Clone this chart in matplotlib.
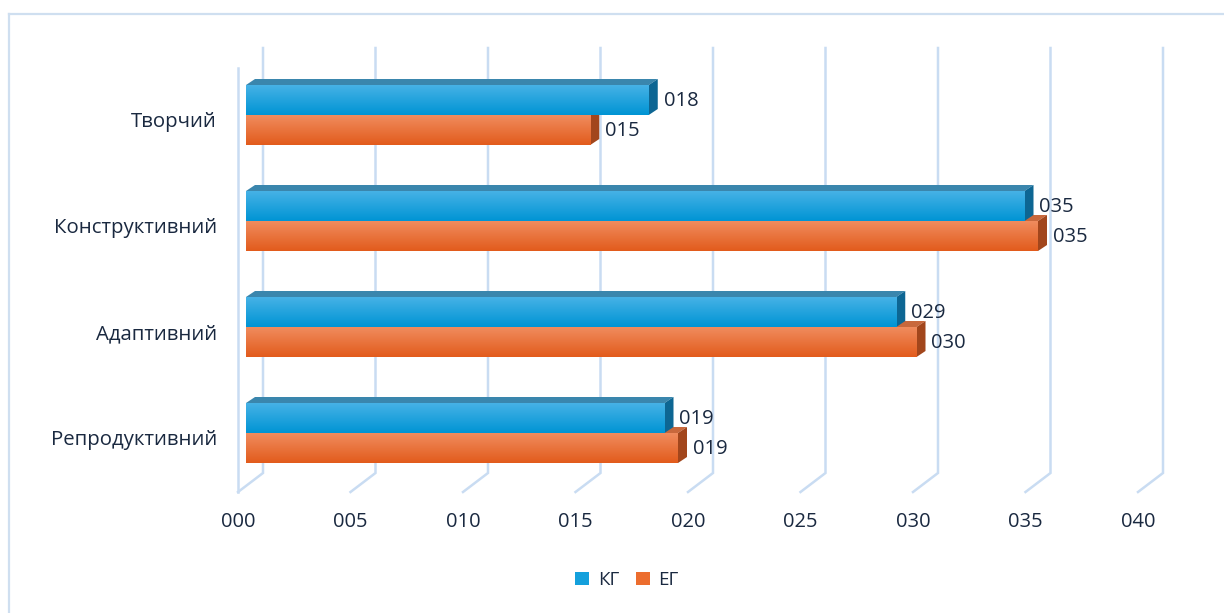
import numpy as np
import matplotlib.pyplot as plt
from matplotlib.patches import Polygon, Rectangle

plt.rcParams['font.family'] = ['Open Sans', 'DejaVu Sans']

categories = ["Репродуктивний", "Адаптивний", "Конструктивний", "Творчий"]
kg = [18.6, 28.9, 34.6, 17.9]
eg = [19.2, 29.8, 35.2, 15.3]
series = ["КГ", "ЕГ"]
xticks = [0, 5, 10, 15, 20, 25, 30, 35, 40]

W, H = 1224, 613
PX = 22.5          # pixels per unit on x
PY = 106.0         # pixels per category step
X0 = 246           # pixel where bars start
Y0 = 433           # pixel row of the first category centre

fig = plt.figure(figsize=(W / 100, H / 100), dpi=100)
ax = fig.add_axes([0, 0, 1, 1])
ax.set_xlim(-X0 / PX, (W - X0) / PX)
ax.set_ylim((Y0 - H) / PY, Y0 / PY)
ax.set_axis_off()

def px(dx):
    return dx / PX

def py(dy):
    return dy / PY

txt = '#1a2940'
grid_c = '#c9dcf2'

# frame around the chart area
ax.plot([px(9 - X0), px(W - X0)], [py(Y0 - 14)] * 2, color='#cfdff0', lw=1.6, clip_on=False)
ax.plot([px(9 - X0)] * 2, [py(Y0 - 14), py(Y0 - H)], color='#cfdff0', lw=1.6, clip_on=False)

# floor / back wall geometry
fx, bx = px(-8), px(17)
fy, by = py(Y0 - 492), py(Y0 - 473)
top_back, top_front = py(Y0 - 48), py(Y0 - 68)

for v in xticks:
    ax.plot([v + fx, v + bx, v + bx], [fy, by, top_back], color=grid_c, lw=1.8,
            solid_joinstyle='miter', zorder=1)
    ax.text(v + fx, py(Y0 - 522), f"{v:03d}", ha='center', va='center',
            fontsize=14.5, color=txt)
ax.plot([fx, fx], [fy, top_front], color=grid_c, lw=1.8, zorder=1)

# 3D bars
bh = py(30)
ddx, ddy = px(9), py(6)

def grad(c_top, c_bot):
    a = np.array(plt.matplotlib.colors.to_rgb(c_top))
    b = np.array(plt.matplotlib.colors.to_rgb(c_bot))
    t = np.linspace(0, 1, 64)[:, None]
    return (a * (1 - t) + b * t)[:, None, :]

styles = {
    "КГ": dict(top='#3a86ad', side='#0d6693', g=grad('#46b2e6', '#0094d4'), mid='#14a0dc'),
    "ЕГ": dict(top='#c8683c', side='#a2461c', g=grad('#f08c5e', '#e25b1c'), mid='#ec6d2e'),
}

for i, cat in enumerate(categories):
    for name, vals, off in [("ЕГ", eg, -bh), ("КГ", kg, 0.0)]:
        v = vals[i]
        st = styles[name]
        yb, yt = i + off, i + off + bh
        ax.add_patch(Polygon([(0, yt), (v, yt), (v + ddx, yt + ddy), (ddx, yt + ddy)],
                             closed=True, fc=st['top'], ec='none', zorder=3))
        ax.add_patch(Polygon([(v, yb), (v, yt), (v + ddx, yt + ddy), (v + ddx, yb + ddy)],
                             closed=True, fc=st['side'], ec='none', zorder=3))
        bar = ax.barh(yb, v, height=bh, left=0, align='edge', color=st['mid'],
                      edgecolor='none', zorder=3)[0]
        im = ax.imshow(st['g'], extent=[0, v, yb, yt], aspect='auto',
                       interpolation='bilinear', zorder=3.1)
        im.set_clip_path(bar)
        ax.text(v + ddx + px(6), (yb + yt) / 2 + py(-1), f"{v:03.0f}", ha='left',
                va='center', fontsize=14.5, color=txt, zorder=5)
    ax.text(px(217 - X0), i + py(-7), cat, ha='right', va='center',
            fontsize=14.7, color=txt)

ax.set_xlim(-X0 / PX, (W - X0) / PX)
ax.set_ylim((Y0 - H) / PY, Y0 / PY)

handles = [Rectangle((0, 0), 1, 1, fc=styles[s]['mid'], ec='none') for s in series]
fig.legend(handles, series, loc='center', bbox_to_anchor=(627 / W, 1 - 580 / H),
           ncol=2, frameon=False, fontsize=13.5, handlelength=0.75, handleheight=0.75,
           handletextpad=0.45, columnspacing=0.9, labelcolor=txt)

fig.savefig("out.png", dpi=100)
